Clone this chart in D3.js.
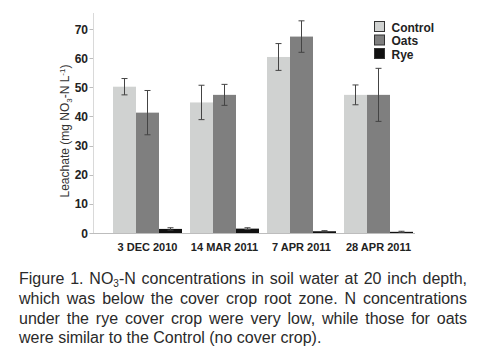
<!DOCTYPE html>
<html>
<head>
<meta charset="utf-8">
<script src="https://cdn.jsdelivr.net/npm/d3@7"></script>
<style>
  html, body { margin: 0; padding: 0; background: #fff; }
  #wrap { position: relative; width: 478px; height: 356px; overflow: hidden; }
  svg { position: absolute; left: 0; top: 0; }
  .cap {
    position: absolute; left: 19px; width: 448px; white-space: nowrap;
    font-family: "Liberation Sans", Arial, sans-serif; font-size: 16px;
    line-height: 18px; color: #2a2a2a; margin: 0;
  }
  .cap.j { text-align: justify; text-align-last: justify; white-space: normal; }
  .cap sub { font-size: 10px; vertical-align: -3px; line-height: 0; }
</style>
</head>
<body>
<div id="wrap"></div>
<script>
const categories = ["3 DEC 2010", "14 MAR 2011", "7 APR 2011", "28 APR 2011"];
const seriesNames = ["Control", "Oats", "Rye"];
const controlValues = [50.2, 44.8, 60.4, 47.4];
const oatsValues = [41.3, 47.4, 67.4, 47.4];
const ryeValues = [1.4, 1.5, 0.6, 0.4];
const controlErr = [2.8, 5.9, 4.6, 3.4];
const oatsErr = [7.6, 3.6, 5.4, 9.1];
const ryeErr = [0.4, 0.3, 0.2, 0.2];
const yTicks = [0, 10, 20, 30, 40, 50, 60, 70];
const captionLines = [
  "Figure 1. NO<sub>3</sub>-N concentrations in soil water at 20 inch depth,",
  "which was below the cover crop root zone. N concentrations",
  "under the rye cover crop were very low, while those for oats",
  "were similar to the Control (no cover crop)."
];

const colors = { Control: "#d0d2d1", Oats: "#7f7f7f", Rye: "#111111" };
const valuesBy = { Control: controlValues, Oats: oatsValues, Rye: ryeValues };
const errBy = { Control: controlErr, Oats: oatsErr, Rye: ryeErr };

const W = 478, H = 356;
const wrap = d3.select("#wrap");
const svg = wrap.append("svg").attr("width", W).attr("height", H);

const y = d3.scaleLinear().domain([0, 70]).range([233, 29]);
const x0 = d3.scaleBand().domain(categories).range([113, 413]).paddingInner(8 / 77).paddingOuter(0);
const x1 = d3.scaleBand().domain(seriesNames).range([0, x0.bandwidth()]);

const font = "'Liberation Sans', Arial, sans-serif";

// y axis line
svg.append("line").attr("x1", 93.5).attr("x2", 93.5).attr("y1", 13).attr("y2", 233)
  .attr("stroke", "#d9d9d9").attr("stroke-width", 1);
// x axis line
svg.append("line").attr("x1", 91).attr("x2", 415).attr("y1", 233.5).attr("y2", 233.5)
  .attr("stroke", "#bdbdbd").attr("stroke-width", 1);

// y ticks
const yt = svg.append("g");
yt.selectAll("line").data(yTicks).join("line")
  .attr("x1", 89.5).attr("x2", 93).attr("y1", d => Math.round(y(d)) + 0.5).attr("y2", d => Math.round(y(d)) + 0.5)
  .attr("stroke", "#bdbdbd");
yt.selectAll("text").data(yTicks).join("text")
  .attr("x", 88).attr("y", d => y(d) + 4.5)
  .attr("text-anchor", "end")
  .attr("font-family", font).attr("font-weight", "bold").attr("font-size", 12)
  .attr("fill", "#222").text(d => d);

// y label
const yl = svg.append("text")
  .attr("transform", "translate(69,131) rotate(-90)")
  .attr("text-anchor", "middle")
  .attr("font-family", font).attr("font-size", 12).attr("fill", "#333");
yl.append("tspan").text("Leachate (mg NO");
yl.append("tspan").attr("font-size", 8).attr("dy", 3).text("3");
yl.append("tspan").attr("dy", -3).text("-N L");
yl.append("tspan").attr("font-size", 8).attr("dy", -4).text("-1");
yl.append("tspan").attr("dy", 4).text(")");

// bars
const groups = svg.append("g").selectAll("g").data(categories).join("g")
  .attr("transform", d => `translate(${x0(d)},0)`);

seriesNames.forEach(s => {
  groups.append("rect")
    .attr("x", (d) => x1(s))
    .attr("y", (d, i) => y(valuesBy[s][i]))
    .attr("width", x1.bandwidth())
    .attr("height", (d, i) => y(0) - y(valuesBy[s][i]))
    .attr("fill", colors[s]);
});

// error bars
seriesNames.forEach(s => {
  const eb = groups.append("g").attr("stroke", "#444").attr("stroke-width", 1);
  const cx = x1(s) + x1.bandwidth() / 2;
  eb.append("line").attr("x1", cx).attr("x2", cx)
    .attr("y1", (d, i) => y(valuesBy[s][i] + errBy[s][i]))
    .attr("y2", (d, i) => y(Math.max(0, valuesBy[s][i] - errBy[s][i])));
  eb.append("line").attr("x1", cx - 3).attr("x2", cx + 3)
    .attr("y1", (d, i) => y(valuesBy[s][i] + errBy[s][i]))
    .attr("y2", (d, i) => y(valuesBy[s][i] + errBy[s][i]));
  eb.append("line").attr("x1", cx - 3).attr("x2", cx + 3)
    .attr("y1", (d, i) => y(Math.max(0, valuesBy[s][i] - errBy[s][i])))
    .attr("y2", (d, i) => y(Math.max(0, valuesBy[s][i] - errBy[s][i])));
});

// x labels
svg.append("g").selectAll("text").data(categories).join("text")
  .attr("x", d => x0(d) + x0.bandwidth() / 2)
  .attr("y", 251)
  .attr("text-anchor", "middle")
  .attr("font-family", font).attr("font-weight", "bold").attr("font-size", 11)
  .attr("fill", "#222").text(d => d);

// legend
const lg = svg.append("g").selectAll("g").data(seriesNames).join("g")
  .attr("transform", (d, i) => `translate(374.5,${21.5 + i * 13.5})`);
lg.append("rect").attr("width", 10).attr("height", 10)
  .attr("fill", d => colors[d]).attr("stroke", "#333").attr("stroke-width", 1);
lg.append("text").attr("x", 17).attr("y", 10)
  .attr("font-family", font).attr("font-weight", "bold").attr("font-size", 12)
  .attr("fill", "#222").text(d => d);

// caption (one block per line; all but last justified)
captionLines.forEach((t, i) => {
  wrap.append("div")
    .attr("class", i < captionLines.length - 1 ? "cap j" : "cap")
    .style("top", (270 + i * 19.8) + "px")
    .html(t);
});
</script>
</body>
</html>
